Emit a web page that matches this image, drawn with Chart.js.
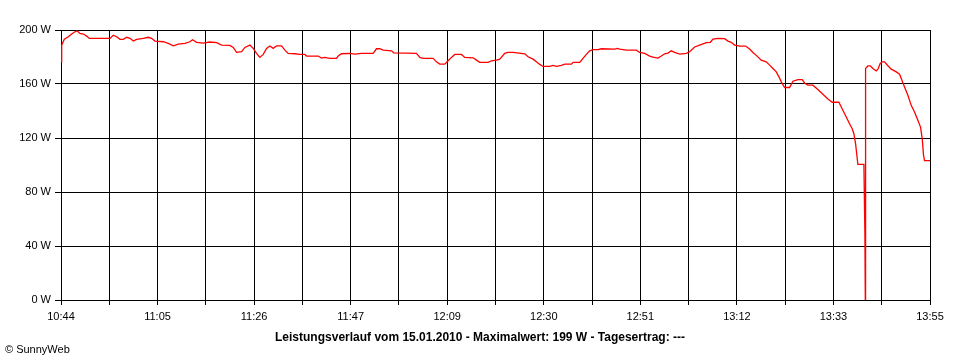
<!DOCTYPE html>
<html>
<head>
<meta charset="utf-8">
<script src="https://cdn.jsdelivr.net/npm/chart.js@4/dist/chart.umd.min.js"></script>
<style>
  html, body { margin: 0; padding: 0; background: #fff; }
  #wrap { position: relative; width: 960px; height: 360px; }
  canvas { position: absolute; left: 0; top: 0; }
  .txt { position: absolute; font-family: "Liberation Sans", Arial, sans-serif; font-size: 11px; color: #000; white-space: nowrap; line-height: 13px; }
  #title { left: 0; width: 960px; text-align: center; top: 330px; font-weight: bold; font-size: 12px; line-height: 14px; }
  #copy { left: 5px; top: 343px; }
</style>
</head>
<body>
<div id="wrap">
  <canvas id="c" width="960" height="360"></canvas>
  <div class="txt" id="title">Leistungsverlauf vom 15.01.2010 - Maximalwert: 199 W - Tagesertrag: ---</div>
  <div class="txt" id="copy">© SunnyWeb</div>
</div>
<script>
// minutes after 10:44
const minutes = [0, 0.15, 0.73, 1.61, 2.34, 3.08, 3.59, 4.17, 4.91, 5.64, 6.22, 10.76, 11.50, 12.23, 12.96, 13.69, 14.43, 15.16, 15.89, 16.62, 18.09, 19.18, 19.92, 20.65, 22.48, 23.58, 24.68, 25.77, 27.24, 28.34, 28.92, 29.80, 31.27, 32.73, 34.20, 35.29, 37.12, 37.86, 38.59, 39.69, 40.42, 41.52, 42.25, 42.98, 43.71, 44.45, 45.18, 45.91, 46.64, 47.38, 48.47, 49.21, 49.94, 51.40, 52.50, 53.60, 53.97, 56.53, 57.26, 57.99, 59.09, 60.56, 60.92, 61.65, 63.48, 64.58, 66.05, 68.61, 69.34, 70.08, 70.81, 72.64, 73.15, 78.13, 78.86, 79.59, 81.79, 82.52, 83.25, 84.35, 85.08, 85.82, 86.55, 88.01, 88.75, 90.58, 91.31, 92.04, 93.87, 94.60, 95.70, 96.43, 97.53, 98.26, 99.36, 101.93, 102.66, 103.76, 104.49, 105.22, 105.95, 107.42, 108.15, 108.88, 109.98, 110.71, 112.18, 112.55, 114.01, 114.74, 115.47, 116.20, 116.94, 118.03, 118.77, 121.70, 122.28, 122.80, 124.26, 126.46, 127.19, 128.29, 129.39, 130.12, 131.21, 131.95, 132.68, 133.41, 134.14, 134.88, 135.97, 137.44, 138.17, 139.27, 140.37, 141.83, 142.71, 143.30, 144.39, 145.86, 146.59, 147.32, 148.06, 149.16, 150.47, 151.35, 152.08, 152.82, 153.91, 155.01, 155.75, 156.48, 157.21, 157.80, 158.31, 159.04, 160.14, 160.87, 161.97, 162.92, 163.43, 164.16, 165.26, 166.36, 167.46, 168.56, 169.51, 170.97, 171.85, 172.59, 173.32, 173.90, 174.27, 174.64, 175.15, 176.47, 176.69, 176.78, 176.84, 177.35, 177.86, 178.45, 179.18, 179.55, 180.06, 180.50, 181.01, 181.75, 182.48, 183.58, 184.31, 184.68, 185.40, 186.14, 186.87, 187.60, 188.33, 188.92, 189.29, 189.58, 189.80, 191];
// power in W
const watts = [176.4, 188.8, 193.1, 195.0, 197.0, 198.7, 199.3, 197.5, 197.0, 195.5, 193.8, 193.8, 196.1, 195.0, 193.1, 193.1, 194.6, 193.8, 191.8, 193.1, 193.8, 194.6, 193.8, 191.8, 191.3, 190.1, 188.3, 189.6, 190.1, 191.3, 192.8, 190.9, 190.3, 191.1, 190.6, 188.8, 188.6, 187.1, 183.4, 183.9, 187.1, 188.8, 186.4, 182.7, 179.7, 181.9, 186.4, 188.1, 186.4, 188.3, 188.3, 185.1, 182.7, 182.4, 181.9, 181.9, 180.7, 180.7, 179.2, 179.7, 179.0, 179.0, 180.7, 182.4, 182.7, 182.2, 182.7, 182.7, 186.1, 186.1, 185.1, 184.6, 183.1, 182.7, 179.7, 179.0, 179.0, 176.4, 174.7, 174.7, 177.2, 179.7, 181.9, 181.9, 179.7, 179.4, 177.7, 176.0, 176.0, 177.2, 177.7, 178.4, 182.7, 183.4, 183.4, 182.4, 180.2, 178.4, 176.4, 174.5, 173.0, 173.0, 173.8, 173.0, 173.8, 174.7, 174.7, 176.0, 176.0, 179.0, 181.9, 184.6, 185.4, 185.4, 186.1, 185.9, 186.4, 185.9, 185.1, 185.1, 183.4, 182.7, 180.7, 179.9, 179.2, 180.7, 182.4, 182.9, 184.6, 183.4, 182.2, 182.7, 183.9, 187.4, 188.8, 190.6, 190.9, 193.3, 193.8, 193.6, 191.8, 190.9, 188.8, 188.1, 188.1, 185.9, 183.4, 181.2, 177.7, 176.4, 174.0, 171.5, 169.0, 165.3, 161.6, 157.4, 157.4, 162.1, 163.3, 163.3, 160.8, 159.1, 159.1, 155.9, 152.4, 148.9, 146.5, 146.5, 140.5, 135.5, 130.6, 126.9, 123.2, 115.8, 100.4, 100.4, 49.0, 0, 171.5, 173.5, 173.5, 171.5, 169.7, 171.0, 175.2, 176.4, 176.4, 173.5, 171.0, 169.0, 167.3, 164.1, 157.8, 151.7, 144.2, 139.3, 133.1, 128.1, 119.5, 107.1, 103.3, 103.3];
const tickLabels = ['10:44', '', '11:05', '', '11:26', '', '11:47', '', '12:09', '', '12:30', '', '12:51', '', '13:12', '', '13:33', '', '13:55'];
const yTicks = [0, 40, 80, 120, 160, 200];
const xSpan = 191;

const FONT = { family: '"Liberation Sans", Arial, sans-serif', size: 11 };

new Chart(document.getElementById('c'), {
  type: 'line',
  data: {
    datasets: [{
      data: minutes.map((m, i) => ({ x: m, y: watts[i] })),
      borderColor: '#ff0000',
      borderWidth: 1.3,
      pointRadius: 0,
      tension: 0,
      fill: false
    }]
  },
  options: {
    responsive: false,
    animation: false,
    layout: { padding: { left: 0, right: 30, top: 30, bottom: 30 } },
    plugins: { legend: { display: false }, tooltip: { enabled: false }, title: { display: false } },
    scales: {
      x: {
        type: 'linear',
        min: 0,
        max: xSpan,
        afterBuildTicks: s => { s.ticks = tickLabels.map((_, i) => ({ value: i * xSpan / (tickLabels.length - 1) })); },
        afterFit: s => { s.height = 30; },
        ticks: {
          autoSkip: false, maxRotation: 0, minRotation: 0,
          color: '#000', font: FONT, padding: 5,
          callback: (v, i) => tickLabels[i]
        },
        grid: { color: '#000', lineWidth: 1, tickLength: 5, drawTicks: true },
        border: { color: '#000', width: 1 }
      },
      y: {
        min: 0,
        max: 200,
        afterBuildTicks: s => { s.ticks = yTicks.map(v => ({ value: v })); },
        afterFit: s => { s.width = 61; },
        ticks: { color: '#000', font: FONT, padding: 4, callback: v => v + ' W' },
        grid: { color: '#000', lineWidth: 1, tickLength: 6, drawTicks: true },
        border: { color: '#000', width: 1 }
      }
    }
  }
});
</script>
</body>
</html>
